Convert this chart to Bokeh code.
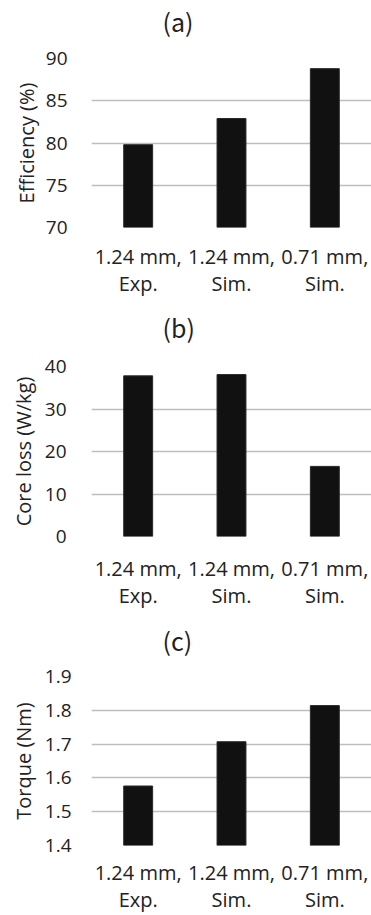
from bokeh.plotting import figure
from bokeh.layouts import column
from bokeh.models import FactorRange, Range1d, FixedTicker, Title, PrintfTickFormatter
from bokeh.embed import file_html
from bokeh.resources import INLINE

categories = ["1.24 mm,\nExp.", "1.24 mm,\nSim.", "0.71 mm,\nSim."]
efficiency = [79.8, 82.9, 88.8]
core_loss = [37.8, 38.1, 16.5]
torque = [1.576, 1.707, 1.814]

eff_ticks = [70, 75, 80, 85, 90]
loss_ticks = [0, 10, 20, 30, 40]
torque_ticks = [1.4, 1.5, 1.6, 1.7, 1.8, 1.9]

FONT = "Open Sans"
TEXT = "#222222"
LEFT = 91


def make(title, ylabel, values, ticks, fmt, height, top, frame_h,
         spacer, title_offset, xstand, ytick_stand, ylab_stand):
    y0, y1 = ticks[0], ticks[-1]
    p = figure(x_range=FactorRange(*categories, range_padding=0),
               y_range=Range1d(y0, y1),
               width=371, height=height,
               output_backend="svg", toolbar_location=None,
               min_border_left=LEFT, min_border_right=0,
               min_border_top=top, min_border_bottom=height - top - frame_h)
    p.title = None
    # invisible spacer between frame and the panel title
    p.add_layout(Title(text=" ", text_font_size="1px", standoff=spacer), "above")
    p.add_layout(Title(text=title, align="left", offset=title_offset, standoff=0,
                       text_font="Noto Sans CJK JP", text_font_size="25px",
                       text_font_style="normal", text_color=TEXT), "above")
    p.vbar(x=categories, top=values, bottom=y0, width=0.31,
           fill_color="#111111", line_color="#2a2a2a", line_width=1)
    p.outline_line_color = None
    p.xgrid.visible = False
    p.ygrid.grid_line_color = "#bebebe"
    p.ygrid.grid_line_width = 1.5
    p.yaxis.ticker = FixedTicker(ticks=ticks)
    p.yaxis.formatter = PrintfTickFormatter(format=fmt)
    for ax in (p.xaxis[0], p.yaxis[0]):
        ax.axis_line_color = None
        ax.major_tick_line_color = None
        ax.minor_tick_line_color = None
        ax.major_tick_out = 0
        ax.major_tick_in = 0
        ax.minor_tick_out = 0
        ax.minor_tick_in = 0
        ax.major_label_text_font = FONT
        ax.major_label_text_color = TEXT
    p.yaxis.major_label_text_font_size = "19px"
    p.yaxis.major_label_standoff = ytick_stand
    p.yaxis.axis_label = ylabel
    p.yaxis.axis_label_text_font = FONT
    p.yaxis.axis_label_text_font_size = "20px"
    p.yaxis.axis_label_text_font_style = "normal"
    p.yaxis.axis_label_text_color = TEXT
    p.yaxis.axis_label_text_line_height = 1.0
    p.yaxis.axis_label_standoff = ylab_stand
    p.xaxis.major_label_text_font_size = "20px"
    p.xaxis.major_label_text_line_height = 1.0
    p.xaxis.major_label_standoff = xstand
    return p


pa = make("(a)", "Efficiency (%)", efficiency, eff_ticks, "%d",
          305, 57, 170, 17, 71, 15, 24, 3)
pb = make("(b)", "Core loss (W/kg)", core_loss, loss_ticks, "%d",
          307, 61, 170, 19, 71, 18, 25, 5)
pc = make("(c)", "Torque (Nm)", torque, torque_ticks, "%.1f",
          303, 64, 171, 16, 71, 13, 20, 5)

layout = column(pa, pb, pc, spacing=0)
open("out.html", "w").write(file_html(layout, INLINE))
